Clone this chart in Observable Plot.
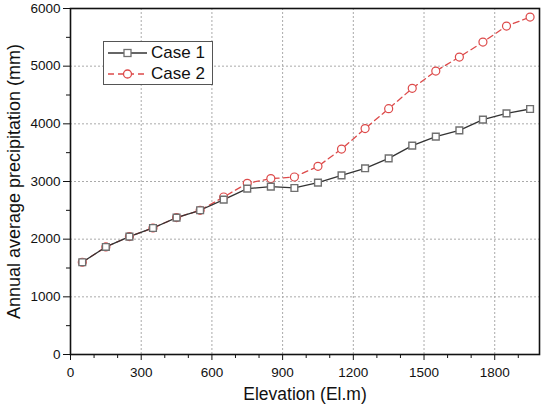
<!DOCTYPE html>
<html>
<head>
<meta charset="utf-8">
<script src="https://cdn.jsdelivr.net/npm/d3@7"></script>
<script src="https://cdn.jsdelivr.net/npm/@observablehq/plot@0.6"></script>
<style>
  html, body { margin: 0; padding: 0; background: #fff; }
  #wrap { position: relative; width: 542px; height: 406px; font-family: "Liberation Sans", Arial, sans-serif; }
  #legend { position: absolute; left: 103px; top: 41px; width: 110px; height: 44px; border: 1px solid #555; background: #fff; box-sizing: border-box; }
  #legend .row { position: absolute; left: 0; height: 20px; display: flex; align-items: center; }
  #legend svg { display: block; }
  #legend span { font-size: 17px; color: #111; margin-left: 3px; }
</style>
</head>
<body>
<div id="wrap">
  <div id="chart"></div>
  <div id="legend"></div>
</div>
<script>
const elevation = [50,150,250,350,450,550,650,750,850,950,1050,1150,1250,1350,1450,1550,1650,1750,1850,1950];
const case1 = [1600,1865,2045,2194,2374,2501,2686,2877,2911,2888,2981,3107,3229,3402,3622,3778,3887,4073,4182,4257];
const case2 = [1600,1865,2045,2194,2374,2501,2731,2969,3050,3078,3263,3563,3917,4263,4615,4915,5158,5418,5695,5851];
const seriesNames = ["Case 1", "Case 2"];
const xMajor = [0,300,600,900,1200,1500,1800];
const xMinor = [100,200,400,500,700,800,1000,1100,1300,1400,1600,1700,1900];
const yMajor = [0,1000,2000,3000,4000,5000,6000];
const yMinor = [500,1500,2500,3500,4500,5500];
const xTitle = "Elevation (El.m)";
const yTitle = "Annual average precipitation (mm)";

const c1 = "#333333", c1m = "#707070", c2 = "#dd4a4a";
const d1 = elevation.map((x, i) => ({x, y: case1[i]}));
const d2 = elevation.map((x, i) => ({x, y: case2[i]}));

const chart = Plot.plot({
  width: 542,
  height: 406,
  marginLeft: 70,
  marginRight: 3,
  marginTop: 8,
  marginBottom: 52,
  style: {fontFamily: "'Liberation Sans', Arial, sans-serif", background: "#fff", color: "#111"},
  x: {domain: [0, 1990]},
  y: {domain: [0, 6000]},
  marks: [
    Plot.gridX(xMajor.slice(1), {stroke: "#aaa", strokeOpacity: 1, strokeDasharray: "2,2"}),
    Plot.gridY(yMajor.slice(1), {stroke: "#aaa", strokeOpacity: 1, strokeDasharray: "2,2"}),
    Plot.axisX(xMinor, {tickSize: 4, text: null, label: null, stroke: "#111"}),
    Plot.axisY(yMinor, {tickSize: 4, text: null, label: null, stroke: "#111"}),
    Plot.axisX(xMajor, {tickSize: 6, tickPadding: 7, fontSize: 13.5, stroke: "#111", tickFormat: d => String(d), label: null}),
    Plot.axisY(yMajor, {tickSize: 7, tickPadding: 3, fontSize: 13.5, stroke: "#111", tickFormat: d => String(d), label: null}),
    Plot.text([xTitle], {frameAnchor: "bottom", text: d => d, dy: 40, lineAnchor: "middle", textAnchor: "middle", fontSize: 17.5, fill: "#111"}),
    Plot.text([yTitle], {frameAnchor: "left", text: d => d, dx: -56, rotate: -90, lineAnchor: "middle", textAnchor: "middle", fontSize: 18, fill: "#111"}),
    Plot.line(d2, {x: "x", y: "y", stroke: c2, strokeWidth: 1.3, strokeDasharray: "6,4"}),
    Plot.line(d1, {x: "x", y: "y", stroke: c1, strokeWidth: 1.3}),
    Plot.dot(d2, {x: "x", y: "y", r: 4, stroke: c2, fill: "#fff", strokeWidth: 1.2}),
    Plot.dot(d1, {x: "x", y: "y", r: 3.8, symbol: "square", stroke: c1m, fill: "#fff", strokeWidth: 1.4}),
    Plot.frame({stroke: "#111", strokeWidth: 1.6})
  ]
});
document.getElementById("chart").appendChild(chart);

// legend
const leg = document.getElementById("legend");
const styles = [
  {stroke: c1, dash: null, marker: "square", mstroke: c1m},
  {stroke: c2, dash: "6,4", marker: "circle", mstroke: c2}
];
seriesNames.forEach((name, i) => {
  const s = styles[i];
  const row = document.createElement("div");
  row.className = "row";
  row.style.top = (i === 0 ? 1 : 22) + "px";
  const ns = "http://www.w3.org/2000/svg";
  const svg = document.createElementNS(ns, "svg");
  svg.setAttribute("width", 44); svg.setAttribute("height", 20);
  const ln = document.createElementNS(ns, "line");
  ln.setAttribute("x1", 4); ln.setAttribute("x2", 43); ln.setAttribute("y1", 10); ln.setAttribute("y2", 10);
  ln.setAttribute("stroke", s.stroke); ln.setAttribute("stroke-width", 1.3);
  if (s.dash) ln.setAttribute("stroke-dasharray", s.dash);
  svg.appendChild(ln);
  let m;
  if (s.marker === "square") {
    m = document.createElementNS(ns, "rect");
    m.setAttribute("x", 20); m.setAttribute("y", 6.5); m.setAttribute("width", 7); m.setAttribute("height", 7);
  } else {
    m = document.createElementNS(ns, "circle");
    m.setAttribute("cx", 23.5); m.setAttribute("cy", 10); m.setAttribute("r", 4);
  }
  m.setAttribute("fill", "#fff"); m.setAttribute("stroke", s.mstroke); m.setAttribute("stroke-width", 1.3);
  svg.appendChild(m);
  row.appendChild(svg);
  const sp = document.createElement("span");
  sp.textContent = name;
  row.appendChild(sp);
  leg.appendChild(row);
});
</script>
</body>
</html>
